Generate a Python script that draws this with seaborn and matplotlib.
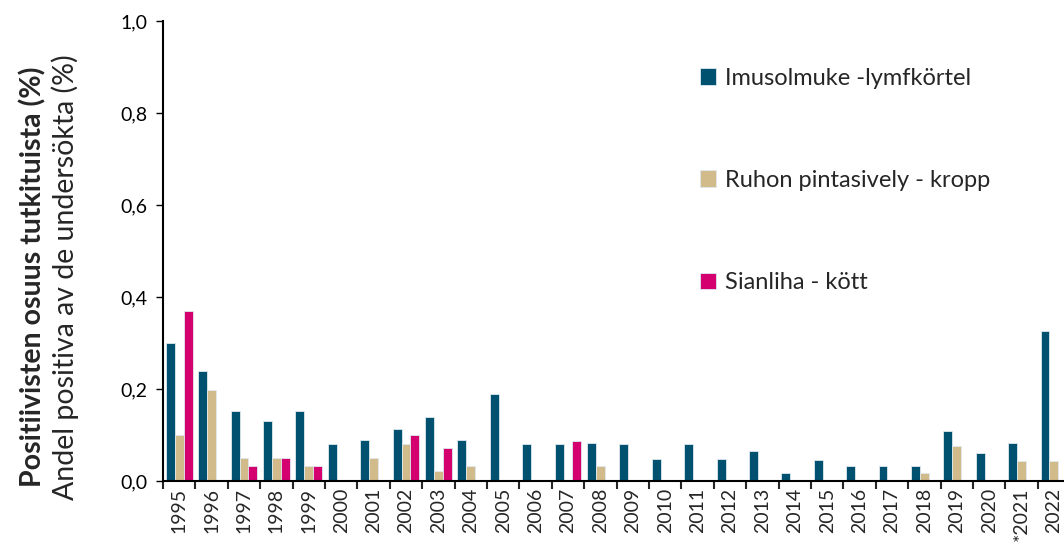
import numpy as np
import pandas as pd
import matplotlib
matplotlib.use('Agg')
import matplotlib.pyplot as plt
import seaborn as sns
from matplotlib.ticker import FuncFormatter, FixedLocator

years = ['1995', '1996', '1997', '1998', '1999', '2000', '2001', '2002', '2003', '2004',
         '2005', '2006', '2007', '2008', '2009', '2010', '2011', '2012', '2013', '2014',
         '2015', '2016', '2017', '2018', '2019', '2020', '*2021', '2022']

nan = np.nan
imusolmuke = [0.30, 0.24, 0.152, 0.13, 0.152, 0.08, 0.09, 0.113, 0.14, 0.09,
              0.19, 0.08, 0.08, 0.082, 0.08, 0.047, 0.08, 0.047, 0.065, 0.017,
              0.046, 0.033, 0.033, 0.033, 0.108, 0.061, 0.083, 0.326]
ruho = [0.10, 0.198, 0.05, 0.05, 0.033, nan, 0.05, 0.08, 0.022, 0.033,
        nan, nan, nan, 0.033, nan, nan, nan, nan, nan, nan,
        nan, nan, nan, 0.017, 0.076, nan, 0.043, 0.043]
sianliha = [0.37, nan, 0.033, 0.05, 0.033, nan, nan, 0.10, 0.072, nan,
            nan, nan, 0.087, nan, nan, nan, nan, nan, nan, nan,
            nan, nan, nan, nan, nan, nan, nan, nan]

series_names = ['Imusolmuke -lymfkörtel', 'Ruhon pintasively - kropp', 'Sianliha - kött']
colors = ['#00506F', '#D2BB8A', '#D4006F']

df = pd.DataFrame({'year': years * 3,
                   'value': imusolmuke + ruho + sianliha,
                   'series': np.repeat(series_names, len(years))})

sns.set_style('white')
plt.rcParams['font.family'] = ['Lato', 'DejaVu Sans']

fig = plt.figure(figsize=(10.64, 5.48), dpi=100)
ax = fig.add_axes([0.1532, 0.1222, 0.8526, 0.8395])

sns.barplot(data=df, x='year', y='value', hue='series', order=years,
            hue_order=series_names, palette=colors, width=0.83, saturation=1,
            edgecolor='#dfe9ee', linewidth=0.6, ax=ax, legend=True)

ax.set_ylim(0, 1.0)
ax.set_xlim(-0.5, len(years) - 0.5)
ax.set_yticks(np.arange(0, 1.01, 0.2))
ax.yaxis.set_major_formatter(FuncFormatter(lambda v, p: f'{v:.1f}'.replace('.', ',')))
ax.tick_params(axis='y', labelsize=14, length=5, width=1, direction='out', left=True,
               colors='black', pad=6)

# ticks at category boundaries, labels at centres
ax.xaxis.set_major_locator(FixedLocator(np.arange(-0.5, len(years), 1.0)))
ax.xaxis.set_major_formatter(FuncFormatter(lambda v, p: ''))
ax.xaxis.set_minor_locator(FixedLocator(np.arange(len(years))))
ax.set_xticklabels(years, minor=True)
ax.tick_params(axis='x', which='major', length=6, width=1.5, direction='out', bottom=True)
ax.tick_params(axis='x', which='minor', length=0, labelsize=14, rotation=90, pad=5)

for s in ['top', 'right']:
    ax.spines[s].set_visible(False)
for s in ['left', 'bottom']:
    ax.spines[s].set_color('black')
    ax.spines[s].set_linewidth(1.5)

ax.set_xlabel('')
ax.set_ylabel('')

ax.legend(loc='upper left', bbox_to_anchor=(0.568, 0.945), frameon=False,
          fontsize=17, labelspacing=3.45, handlelength=0.7, handleheight=0.7,
          handletextpad=0.4)

fig.text(0.031, 0.495, 'Positiivisten osuus tutkituista (%)', rotation=90,
         fontsize=20.5, fontweight='bold', ha='center', va='center')
fig.text(0.061, 0.495, 'Andel positiva av de undersökta (%)', rotation=90,
         fontsize=20.5, ha='center', va='center')

fig.savefig('out.png', dpi=100)
